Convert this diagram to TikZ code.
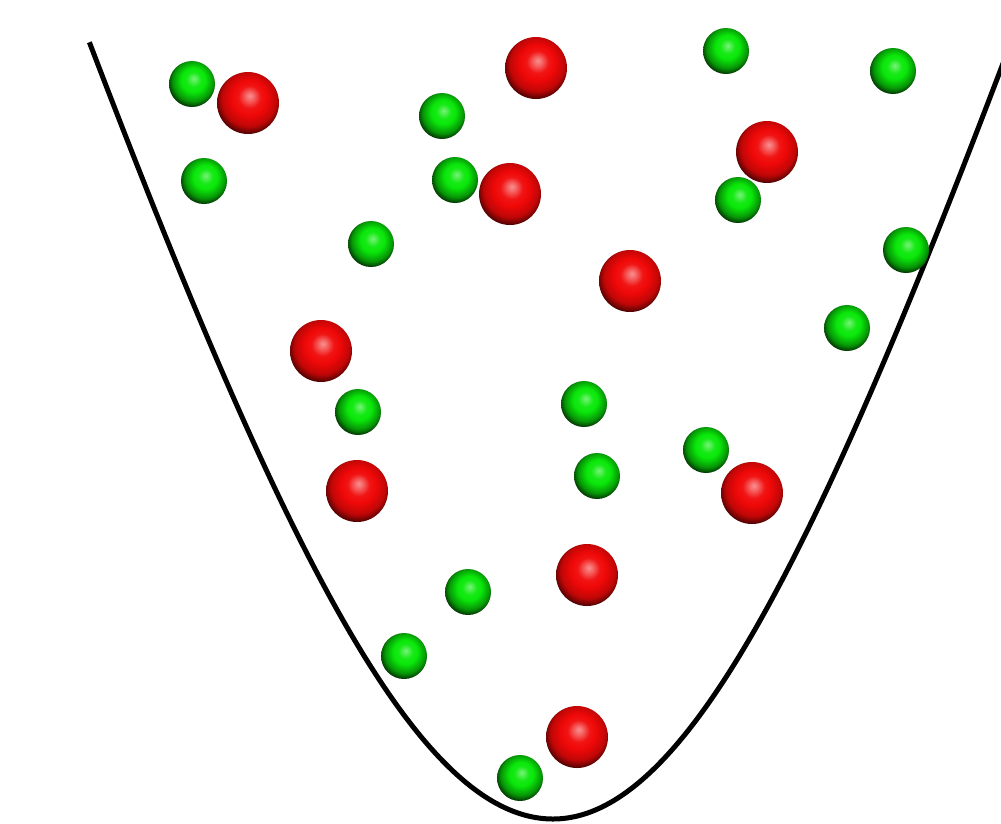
\documentclass[tikz,border=0pt]{standalone}
\usetikzlibrary{shadings}

% Glossy sphere shadings: soft pale highlight a little above the centre,
% darkening towards the lower rim.
\definecolor{ballred}{RGB}{240,8,8}
\definecolor{ballgreen}{RGB}{10,232,10}
\pgfdeclareradialshading{redsphere}{\pgfqpoint{1.5bp}{6bp}}{%
  color(0bp)=(ballred!45!white); color(3bp)=(ballred!60!white);
  color(9bp)=(ballred!95!white); color(14bp)=(ballred);
  color(22bp)=(ballred!80!black);
  color(30bp)=(ballred!12!black); color(50bp)=(black)}
\pgfdeclareradialshading{greensphere}{\pgfqpoint{2bp}{6bp}}{%
  color(0bp)=(ballgreen!55!white); color(3bp)=(ballgreen!70!white);
  color(8bp)=(ballgreen!95!white); color(13bp)=(ballgreen);
  color(22bp)=(ballgreen!65!black);
  color(30bp)=(ballgreen!5!black); color(50bp)=(black)}

\tikzset{
  well/.style={line width=5pt, line join=round, line cap=butt},
  redball/.style={shading=redsphere},
  greenball/.style={shading=greensphere}
}

\begin{document}
\begin{tikzpicture}[x=1pt,y=-1pt]
  \useasboundingbox (0,0) rectangle (1001,823);
  \fill[white] (0,0) rectangle (1001,823);

  % potential well: parabolic floor opening into nearly straight walls
  % (parameter t = square root of the height above the floor)
  \draw[well]
    plot[smooth, domain=27.87:0, samples=70]
      ({553-\x*(14.3+0.003*\x*\x)}, {819-\x*\x})
    -- plot[smooth, domain=0:27.9, samples=70]
      ({553+\x*(14.1+0.003*\x*\x)}, {819-\x*\x});

  % large particles
  \foreach \px/\py in {248/103, 536/68, 767/152, 510/194, 630/281,
                      321/351, 357/491, 752/493, 587/575, 577/737}
    \shade[redball] (\px,\py) circle[radius=31pt];

  % small particles
  \foreach \px/\py in {192/84, 204/181, 442/116, 455/180, 371/244,
                      726/51, 893/71, 738/200, 906/250, 847/328,
                      358/412, 584/404, 706/450, 597/476, 468/592,
                      404/656, 520/778}
    \shade[greenball] (\px,\py) circle[radius=23pt];
\end{tikzpicture}
\end{document}
